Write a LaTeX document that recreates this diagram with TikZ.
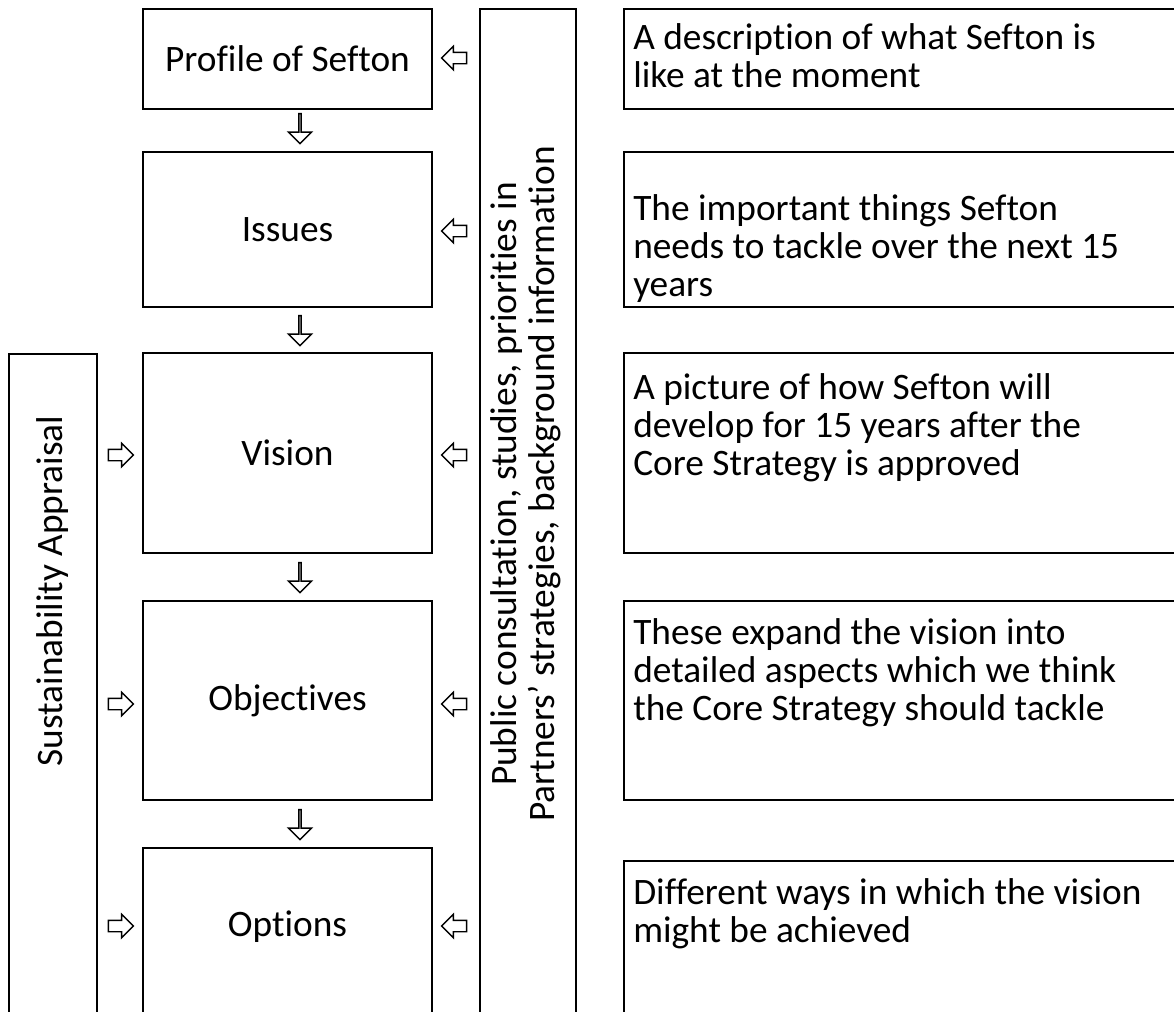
\documentclass[tikz,border=0pt]{standalone}
\usepackage{fontspec}
\setmainfont[Ligatures={NoCommon}]{Carlito}
\usetikzlibrary{shapes.arrows}
\begin{document}
\begin{tikzpicture}[x=0.75pt,y=-0.75pt,
  frame/.style={draw,line width=2pt},
  txt/.style={font=\fontsize{28}{28.5}\selectfont},
  desc/.style={txt,anchor=north west,align=left,inner sep=0pt},
  arr/.style={single arrow,draw,line width=1.1pt,inner sep=0pt,single arrow tip angle=90,single arrow head indent=0pt},
  larr/.style={arr,inner ysep=3.75pt,minimum height=18.75pt,minimum width=16.5pt,single arrow head extend=4.5pt,shape border rotate=180},
  rarr/.style={arr,inner ysep=3.75pt,minimum height=18.75pt,minimum width=16.5pt,single arrow head extend=4.5pt,shape border rotate=0},
  darr/.style={arr,inner ysep=4pt,minimum height=22.5pt,minimum width=17.25pt,single arrow head extend=4.6pt,shape border rotate=270}
]
\useasboundingbox (0,0) rectangle (1174,1011);
\clip (0,0) rectangle (1174,1011);

% centre column
\node[frame,txt,minimum width=216.75pt,minimum height=75pt] (profile) at (287.5,59) {Profile of Sefton};
\node[frame,txt,minimum width=216.75pt,minimum height=116.25pt] (issues) at (287.5,229.5) {Issues};
\node[frame,txt,minimum width=216.75pt,minimum height=150pt] (vision) at (287.5,453) {Vision};
\node[frame,txt,minimum width=216.75pt,minimum height=149.25pt] (objectives) at (287.5,700.5) {Objectives};
\node[frame,txt,minimum width=216.75pt,minimum height=130.5pt] (options) at (287.5,935) {};
\node[txt] (optionstext) at (287.5,927) {Options};

% side columns
\node[frame,minimum width=66pt,minimum height=504pt] (sa) at (53,690) {};
\node[txt,rotate=90] (satext) at (53,591) {Sustainability Appraisal};
\node[frame,minimum width=72pt,minimum height=765pt] (pc) at (528,519) {};
\node[txt,rotate=90,align=center] (pctext) at (526,484) {Public consultation, studies, priorities in\\Partners’ strategies, background information};

% description boxes
\node[frame,minimum width=420pt,minimum height=75pt] (d1) at (904,59) {};
\node[frame,minimum width=420pt,minimum height=116.25pt] (d2) at (904,229.5) {};
\node[frame,minimum width=420pt,minimum height=150pt] (d3) at (904,453) {};
\node[frame,minimum width=420pt,minimum height=149.25pt] (d4) at (904,700.5) {};
\node[frame,minimum width=420pt,minimum height=120pt] (d5) at (904,941) {};

\node[desc] (t1) at (633,23) {A description of what Sefton is\\like at the moment};
\node[desc] (t2) at (633,194) {The important things Sefton\\needs to tackle over the next 15\\years};
\node[desc] (t3) at (633,373) {A picture of how Sefton will\\develop for 15 years after the\\Core Strategy is approved};
\node[desc] (t4) at (633,618) {These expand the vision into\\detailed aspects which we think\\the Core Strategy should tackle};
\node[desc] (t5) at (633,878) {Different ways in which the vision\\might be achieved};

% arrows
\node[larr] (l1) at (457,58) {};
\node[larr] (l2) at (457,231) {};
\node[larr] (l3) at (457,455) {};
\node[larr] (l4) at (457,704) {};
\node[larr] (l5) at (457,926) {};
\node[rarr] (r3) at (118,455) {};
\node[rarr] (r4) at (118,704) {};
\node[rarr] (r5) at (118,926) {};
\node[darr] (dn1) at (300,128) {};
\node[darr] (dn2) at (300,330) {};
\node[darr] (dn3) at (300,577) {};
\node[darr] (dn4) at (300,824) {};
\end{tikzpicture}
\end{document}
